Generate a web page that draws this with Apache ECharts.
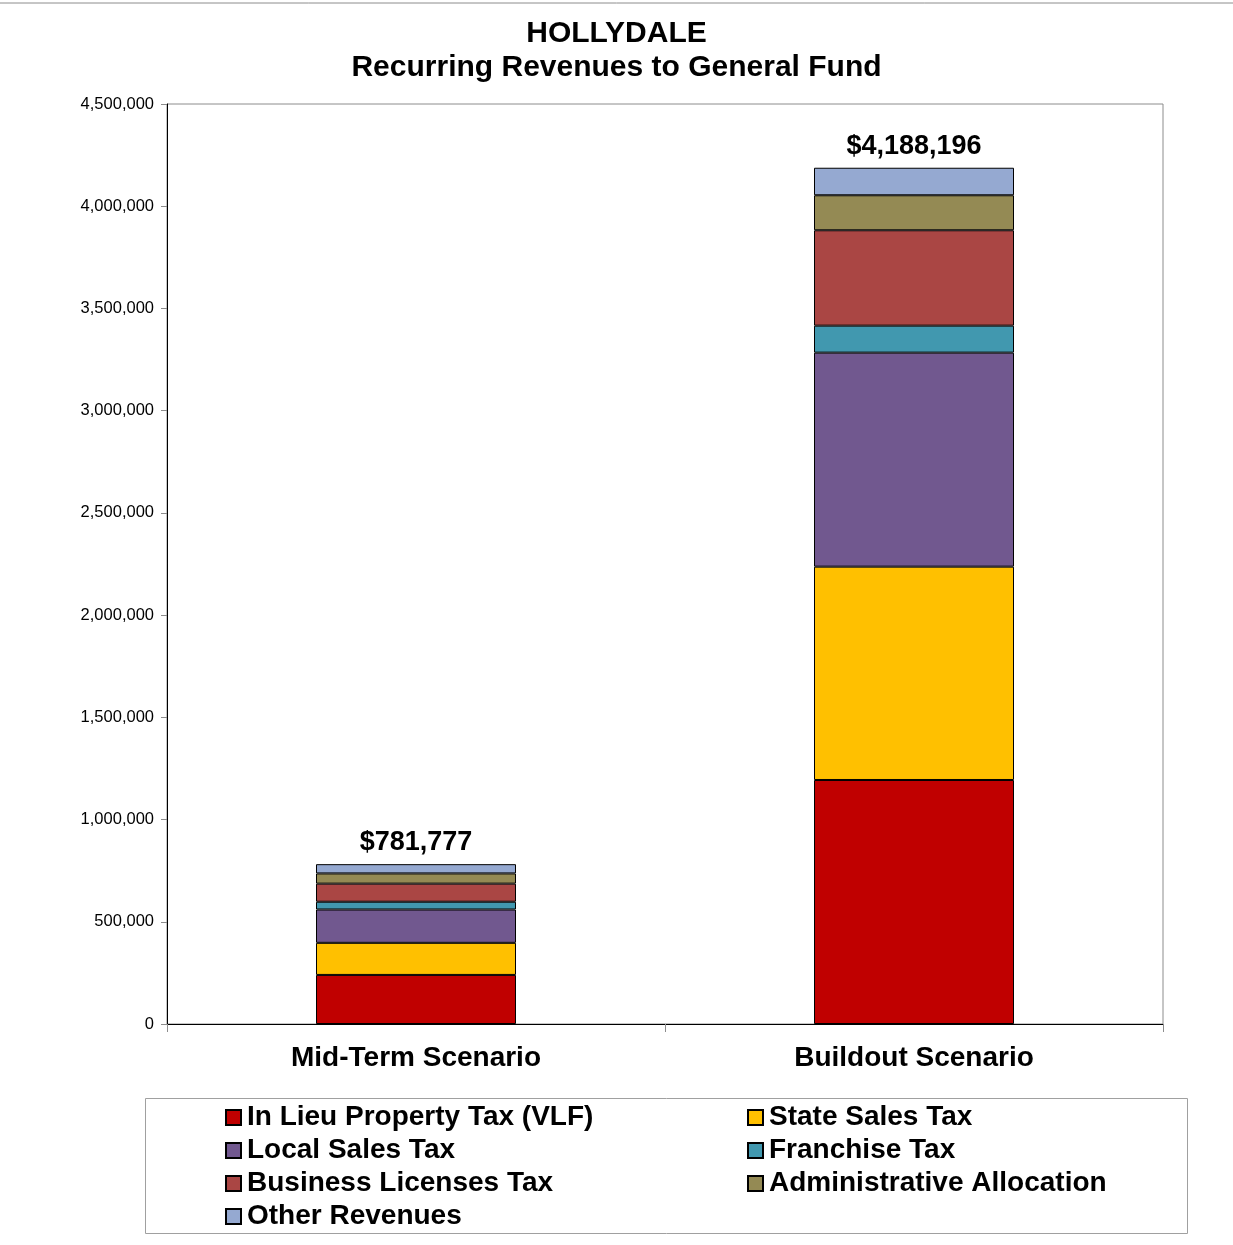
<!DOCTYPE html>
<html>
<head>
<meta charset="utf-8">
<script src="https://cdn.jsdelivr.net/npm/echarts@6/dist/echarts.min.js"></script>
<style>
  html, body { margin: 0; padding: 0; background: #fff; }
  #chart { width: 1233px; height: 1245px; }
</style>
</head>
<body>
<div id="chart"></div>
<script>
// categories and values
const scenarios = ['Mid-Term Scenario', 'Buildout Scenario']
const totals = [781777, 4188196]

const inLieu    = [240000, 1193500]
const stateTax  = [157000, 1043500]
const localTax  = [163000, 1046800]
const franchise = [38000, 132000]
const business  = [88500, 466600]
const adminAlloc = [50000, 171200]
const otherRev  = [45277, 134596]

const yTicks = [0, 500000, 1000000, 1500000, 2000000, 2500000, 3000000, 3500000, 4000000, 4500000]

const seriesDefs = [
  { name: 'In Lieu Property Tax (VLF)', data: inLieu, color: '#c00000' },
  { name: 'State Sales Tax', data: stateTax, color: '#ffc000' },
  { name: 'Local Sales Tax', data: localTax, color: '#71588f' },
  { name: 'Franchise Tax', data: franchise, color: '#4198af' },
  { name: 'Business Licenses Tax', data: business, color: '#aa4644' },
  { name: 'Administrative Allocation', data: adminAlloc, color: '#948a54' },
  { name: 'Other Revenues', data: otherRev, color: '#95a9d1' }
]

const font = 'Arial, "Liberation Sans", sans-serif'
const fmt = n => n.toLocaleString('en-US')

const chart = echarts.init(document.getElementById('chart'))

const series = seriesDefs.map((s, i) => ({
  name: s.name,
  type: 'bar',
  stack: 'total',
  barWidth: 200,
  data: s.data,
  itemStyle: { color: s.color, borderColor: '#000', borderWidth: 1 },
  // the top segment carries the stack total
  label: i === seriesDefs.length - 1 ? {
    show: true,
    position: 'top',
    distance: 8,
    formatter: p => '$' + fmt(totals[p.dataIndex]),
    fontFamily: font, fontWeight: 'bold', fontSize: 27, color: '#000'
  } : { show: false },
  emphasis: { disabled: true }
}))

chart.setOption({
  animation: false,
  backgroundColor: '#fff',
  title: {
    text: 'HOLLYDALE\nRecurring Revenues to General Fund',
    left: 'center',
    top: 12,
    textStyle: { fontFamily: font, fontWeight: 'bold', fontSize: 30, lineHeight: 34, color: '#000' }
  },
  grid: {
    left: 167, right: 70, top: 104, bottom: 221,
    show: true, borderColor: '#8c8c8c', borderWidth: 1
  },
  xAxis: {
    type: 'category',
    data: scenarios,
    axisLine: { lineStyle: { color: '#000', width: 1 } },
    axisTick: { show: true, length: 8, lineStyle: { color: '#8c8c8c' } },
    axisLabel: { margin: 20, fontFamily: font, fontWeight: 'bold', fontSize: 28, color: '#000' }
  },
  yAxis: {
    type: 'value',
    min: yTicks[0],
    max: yTicks[yTicks.length - 1],
    interval: yTicks[1] - yTicks[0],
    axisLine: { show: true, lineStyle: { color: '#000', width: 1 } },
    axisTick: { show: true, length: 6, lineStyle: { color: '#8c8c8c' } },
    splitLine: { show: false },
    axisLabel: { margin: 13, fontFamily: font, fontSize: 16.5, color: '#000', formatter: v => fmt(v) }
  },
  legend: {
    left: 225,
    top: 1101,
    width: 1100,
    padding: 0,
    itemGap: 0,
    itemWidth: 15,
    itemHeight: 15,
    icon: 'rect',
    selectedMode: false,
    textStyle: { fontFamily: font, fontWeight: 'bold', fontSize: 28, color: '#000', width: 500, lineHeight: 33, padding: [0, 0, 0, 1] },
    data: seriesDefs.map(s => s.name)
  },
  graphic: [
    { type: 'line', shape: { x1: 0, y1: 3, x2: 1233, y2: 3 }, style: { stroke: '#8c8c8c', lineWidth: 1 } },
    { type: 'rect', shape: { x: 145.5, y: 1098.5, width: 1042, height: 135 }, style: { fill: null, stroke: '#a0a0a0', lineWidth: 1 }, z: -1 }
  ],
  series
})
</script>
</body>
</html>
